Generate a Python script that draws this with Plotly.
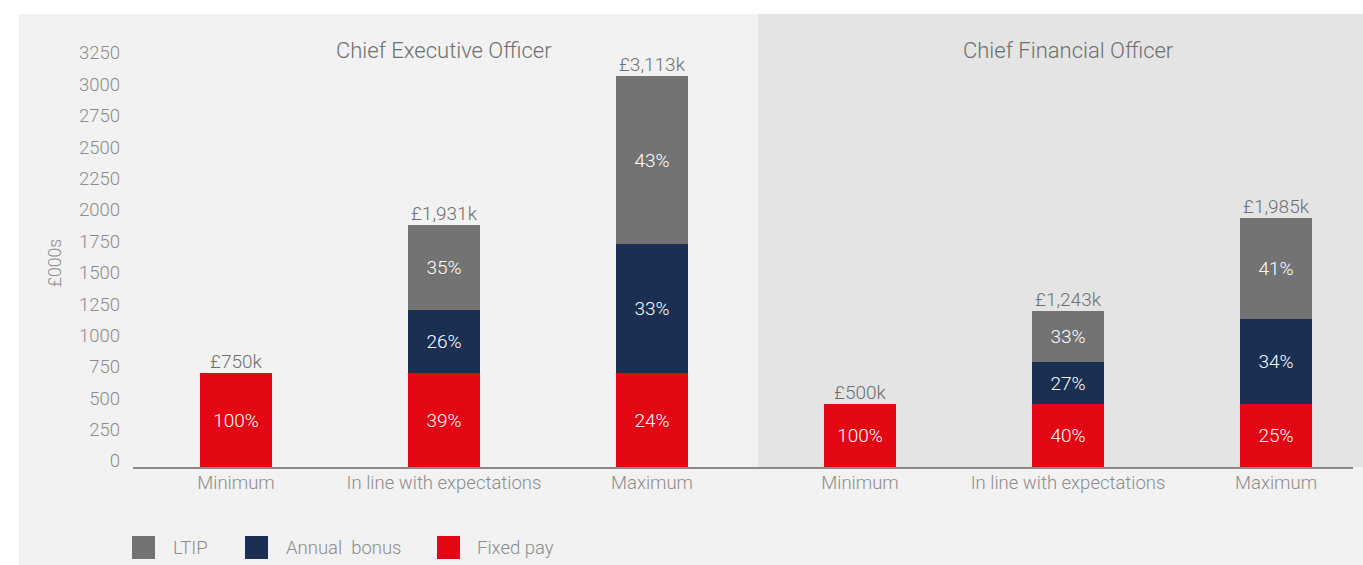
import plotly.graph_objects as go

# Remuneration scenarios (£000s)
categories = ["Minimum", "In line with expectations", "Maximum",
              "Minimum", "In line with expectations", "Maximum"]
fixed_pay = [750, 750, 750, 500, 500, 500]
annual_bonus = [0, 500, 1025, 0, 336, 675]
ltip = [0, 681, 1338, 0, 407, 810]
totals = [750, 1931, 3113, 500, 1243, 1985]

fixed_pct = ["100%", "39%", "24%", "100%", "40%", "25%"]
bonus_pct = ["", "26%", "33%", "", "27%", "34%"]
ltip_pct = ["", "35%", "43%", "", "33%", "41%"]
total_labels = ["£750k", "£1,931k", "£3,113k", "£500k", "£1,243k", "£1,985k"]

panel_titles = ["Chief Executive Officer", "Chief Financial Officer"]
panel_centres = [1, 4]

y_ticks = list(range(0, 3251, 250))

RED = "#e30613"
NAVY = "#1b2f52"
GREY = "#737373"
TXT = "#8c8c8c"
DARK_TXT = "#6f6f6f"
FONT = "Roboto"

x = list(range(len(categories)))

# Plot-area geometry in pixels (used to place paper-referenced decorations)
W, H = 1363, 565
L, R, T, B = 133, 10, 59, 98
pw, ph = W - L - R, H - T - B


def px_x(px):
    return (px - L) / pw


def px_y(py):
    return (H - B - py) / ph


fig = go.Figure()

series = [
    ("Fixed pay", fixed_pay, fixed_pct, RED),
    ("Annual  bonus", annual_bonus, bonus_pct, NAVY),
    ("LTIP", ltip, ltip_pct, GREY),
]
for name, vals, pct, col in series:
    fig.add_trace(go.Bar(
        x=x, y=vals, name=name, marker=dict(color=col, line=dict(width=0)),
        width=0.35, text=pct, textposition="inside", insidetextanchor="middle",
        textangle=0, constraintext="none",
        textfont=dict(family=FONT, size=19, color="white", weight=300),
        showlegend=False, hoverinfo="skip",
    ))

fig.add_trace(go.Scatter(
    x=x, y=totals, mode="text", text=total_labels, textposition="top center",
    textfont=dict(family=FONT, size=19, color=DARK_TXT, weight=300),
    showlegend=False, hoverinfo="skip", cliponaxis=False,
))

shapes = [
    # light panel background
    dict(type="rect", xref="paper", yref="paper", layer="below",
         x0=px_x(19), x1=px_x(W + 5), y0=px_y(H + 5), y1=px_y(14),
         fillcolor="#f2f2f2", line=dict(width=0)),
    # darker CFO panel
    dict(type="rect", xref="paper", yref="paper", layer="below",
         x0=px_x(758), x1=px_x(W + 5), y0=0, y1=px_y(14),
         fillcolor="#e4e4e4", line=dict(width=0)),
]

annotations = []
for title, cx in zip(panel_titles, panel_centres):
    annotations.append(dict(
        x=cx, y=px_y(50), xref="x", yref="paper", text=title, showarrow=False,
        font=dict(family=FONT, size=22, color=DARK_TXT, weight=300),
        xanchor="center", yanchor="middle",
    ))

# Legend: swatches and labels
legend_items = [("LTIP", GREY, 132, 171), ("Annual  bonus", NAVY, 245, 284),
                ("Fixed pay", RED, 437, 475)]
for label, col, sx, tx in legend_items:
    shapes.append(dict(type="rect", xref="paper", yref="paper",
                       x0=px_x(sx), x1=px_x(sx + 23), y0=px_y(559), y1=px_y(536),
                       fillcolor=col, line=dict(width=0)))
    annotations.append(dict(
        x=px_x(tx), y=px_y(548), xref="paper", yref="paper", text=label,
        showarrow=False, xanchor="left", yanchor="middle",
        font=dict(family=FONT, size=18.5, color=TXT, weight=300),
    ))

fig.update_layout(
    width=W, height=H, barmode="stack", bargap=0,
    margin=dict(l=L, r=R, t=T, b=B, pad=0),
    paper_bgcolor="white", plot_bgcolor="rgba(0,0,0,0)",
    shapes=shapes, annotations=annotations, showlegend=False,
    font=dict(family=FONT, color=TXT),
)

fig.update_xaxes(
    range=[-0.495, 5.37], tickvals=x, ticktext=categories,
    showgrid=False, zeroline=False, showline=True, linecolor="#8a8a8a",
    linewidth=1.5, ticks="", tickfont=dict(family=FONT, size=18.5, color=TXT, weight=300),
    ticklabelstandoff=-2,
)
fig.update_yaxes(
    range=[0, 3250], tickvals=y_ticks, showgrid=False, zeroline=False,
    showline=False, ticks="", ticklabelstandoff=12, ticklabelshift=-6,
    tickfont=dict(family=FONT, size=18.5, color=TXT, weight=300),
    title=dict(text="£000s", font=dict(family=FONT, size=17.5, color=TXT, weight=300),
               standoff=12),
)

fig.write_html("out.html")
